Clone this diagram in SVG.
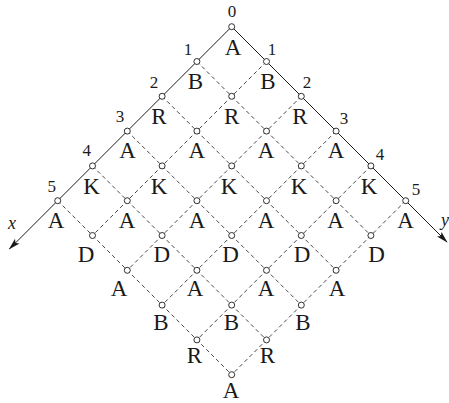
<svg xmlns="http://www.w3.org/2000/svg" width="449" height="403" viewBox="0 0 449 403">
<defs>
<style>
.ax{stroke:#1a1a1a;stroke-width:1;fill:none}
.dl{stroke:#1a1a1a;stroke-width:0.8;stroke-dasharray:4 3;fill:none}
.nd{fill:#fff;stroke:#1a1a1a;stroke-width:0.9}
.lt{font-family:"Liberation Serif","Times New Roman",serif;font-size:23px;fill:#1a1a1a;text-anchor:middle}
.nm{font-family:"Liberation Serif","Times New Roman",serif;font-size:17px;fill:#1a1a1a;text-anchor:middle}
.av{font-family:"Liberation Serif","Times New Roman",serif;font-size:18px;font-style:italic;fill:#1a1a1a}
</style>
<marker id="ah" viewBox="0 0 12 8" refX="11" refY="4" markerWidth="12" markerHeight="8" markerUnits="userSpaceOnUse" orient="auto">
<path d="M0,0.8 L12,4 L0,7.2 L2.5,4 Z" fill="#1a1a1a"/>
</marker>
</defs>
<rect width="449" height="403" fill="#fff"/>
<g id="connectors">
<line class="dl" x1="196.9" y1="61.5" x2="370.9" y2="235.5"/>
<line class="dl" x1="162.1" y1="96.3" x2="336.1" y2="270.3"/>
<line class="dl" x1="127.3" y1="131.1" x2="301.3" y2="305.1"/>
<line class="dl" x1="92.5" y1="165.9" x2="266.5" y2="339.9"/>
<line class="dl" x1="57.7" y1="200.7" x2="231.7" y2="374.7"/>
<line class="dl" x1="266.5" y1="61.5" x2="92.5" y2="235.5"/>
<line class="dl" x1="301.3" y1="96.3" x2="127.3" y2="270.3"/>
<line class="dl" x1="336.1" y1="131.1" x2="162.1" y2="305.1"/>
<line class="dl" x1="370.9" y1="165.9" x2="196.9" y2="339.9"/>
<line class="dl" x1="405.7" y1="200.7" x2="231.7" y2="374.7"/>
<line class="ax" x1="231.7" y1="26.7" x2="9.5" y2="248.9" marker-end="url(#ah)"/>
<line class="ax" x1="231.7" y1="26.7" x2="447" y2="242" marker-end="url(#ah)"/>
</g>
<g id="nodes">
<circle class="nd" cx="231.7" cy="26.7" r="3"/>
<circle class="nd" cx="196.9" cy="61.5" r="3"/><circle class="nd" cx="266.5" cy="61.5" r="3"/>
<circle class="nd" cx="162.1" cy="96.3" r="3"/><circle class="nd" cx="231.7" cy="96.3" r="3"/><circle class="nd" cx="301.3" cy="96.3" r="3"/>
<circle class="nd" cx="127.3" cy="131.1" r="3"/><circle class="nd" cx="196.9" cy="131.1" r="3"/><circle class="nd" cx="266.5" cy="131.1" r="3"/><circle class="nd" cx="336.1" cy="131.1" r="3"/>
<circle class="nd" cx="92.5" cy="165.9" r="3"/><circle class="nd" cx="162.1" cy="165.9" r="3"/><circle class="nd" cx="231.7" cy="165.9" r="3"/><circle class="nd" cx="301.3" cy="165.9" r="3"/><circle class="nd" cx="370.9" cy="165.9" r="3"/>
<circle class="nd" cx="57.7" cy="200.7" r="3"/><circle class="nd" cx="127.3" cy="200.7" r="3"/><circle class="nd" cx="196.9" cy="200.7" r="3"/><circle class="nd" cx="266.5" cy="200.7" r="3"/><circle class="nd" cx="336.1" cy="200.7" r="3"/><circle class="nd" cx="405.7" cy="200.7" r="3"/>
<circle class="nd" cx="92.5" cy="235.5" r="3"/><circle class="nd" cx="162.1" cy="235.5" r="3"/><circle class="nd" cx="231.7" cy="235.5" r="3"/><circle class="nd" cx="301.3" cy="235.5" r="3"/><circle class="nd" cx="370.9" cy="235.5" r="3"/>
<circle class="nd" cx="127.3" cy="270.3" r="3"/><circle class="nd" cx="196.9" cy="270.3" r="3"/><circle class="nd" cx="266.5" cy="270.3" r="3"/><circle class="nd" cx="336.1" cy="270.3" r="3"/>
<circle class="nd" cx="162.1" cy="305.1" r="3"/><circle class="nd" cx="231.7" cy="305.1" r="3"/><circle class="nd" cx="301.3" cy="305.1" r="3"/>
<circle class="nd" cx="196.9" cy="339.9" r="3"/><circle class="nd" cx="266.5" cy="339.9" r="3"/>
<circle class="nd" cx="231.7" cy="374.7" r="3"/>
</g>
<g id="letters">
<text class="lt" x="233" y="55">A</text>
<text class="lt" x="195.5" y="89">B</text><text class="lt" x="268" y="89">B</text>
<text class="lt" x="159" y="124">R</text><text class="lt" x="231.7" y="124">R</text><text class="lt" x="300" y="124">R</text>
<text class="lt" x="127.5" y="158">A</text><text class="lt" x="196.7" y="158">A</text><text class="lt" x="266" y="158">A</text><text class="lt" x="336" y="158">A</text>
<text class="lt" x="91.5" y="194">K</text><text class="lt" x="159" y="194">K</text><text class="lt" x="229" y="194">K</text><text class="lt" x="299" y="194">K</text><text class="lt" x="369" y="194">K</text>
<text class="lt" x="56" y="228">A</text><text class="lt" x="127" y="228">A</text><text class="lt" x="197" y="228">A</text><text class="lt" x="266" y="228">A</text><text class="lt" x="335.5" y="228">A</text><text class="lt" x="405.5" y="228">A</text>
<text class="lt" x="86" y="262">D</text><text class="lt" x="161.7" y="262">D</text><text class="lt" x="230.5" y="262">D</text><text class="lt" x="302" y="262">D</text><text class="lt" x="376.5" y="262">D</text>
<text class="lt" x="119" y="296">A</text><text class="lt" x="195" y="296">A</text><text class="lt" x="266" y="296">A</text><text class="lt" x="337" y="296">A</text>
<text class="lt" x="161" y="330">B</text><text class="lt" x="231.5" y="330">B</text><text class="lt" x="303" y="330">B</text>
<text class="lt" x="194.5" y="363">R</text><text class="lt" x="267.5" y="363">R</text>
<text class="lt" x="231" y="398">A</text>
</g>
<g id="numbers">
<text class="nm" x="232" y="17">0</text>
<text class="nm" x="188" y="55">1</text>
<text class="nm" x="154" y="88">2</text>
<text class="nm" x="120" y="122">3</text>
<text class="nm" x="86.7" y="156">4</text>
<text class="nm" x="51.7" y="192">5</text>
<text class="nm" x="272" y="55">1</text>
<text class="nm" x="307" y="88">2</text>
<text class="nm" x="344" y="124">3</text>
<text class="nm" x="380" y="160">4</text>
<text class="nm" x="416" y="195">5</text>
</g>
<g id="axis-labels">
<text class="av" x="8" y="229">x</text>
<text class="av" x="441" y="226">y</text>
</g>
</svg>
